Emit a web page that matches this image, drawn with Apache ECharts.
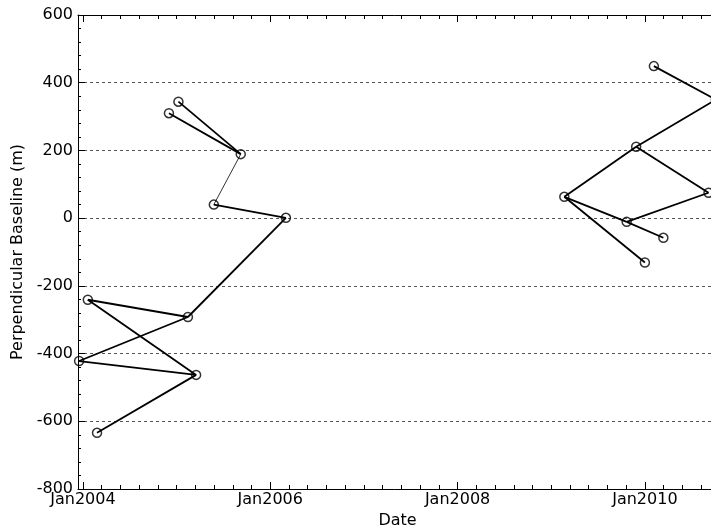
<!DOCTYPE html>
<html>
<head>
<meta charset="utf-8">
<script src="https://cdn.jsdelivr.net/npm/echarts@6/dist/echarts.min.js"></script>
<style>html,body{margin:0;padding:0;background:#fff;overflow:hidden;}#c{width:711px;height:532px;}</style>
</head>
<body>
<div id="c"></div>
<script>
// acquisition dates and perpendicular baselines (m)
const pointDates = [
  '2005-01-08','2004-12-02','2005-09-08','2005-05-26','2006-03-03',
  '2004-01-20','2005-02-14','2003-12-17','2005-03-18','2004-02-25',
  '2010-02-05','2009-11-28','2009-02-21','2010-09-06','2009-10-22',
  '2010-03-14','2010-01-01','2010-10-05'
];
const pointBaselines = [
  344, 310, 189, 40, 1,
  -241, -292, -422, -463, -634,
  449, 211, 63, 75, -11,
  -58, -131, 350
];
// interferometric pairs (indices into the arrays above)
const pairFrom = [0, 1, 2, 3, 4, 6, 6, 5, 7, 8, 10, 11, 12, 11, 12, 14, 14, 12];
const pairTo   = [2, 2, 3, 4, 6, 5, 7, 8, 8, 9, 17, 17, 11, 13, 14, 13, 15, 16];
const thinPairs = [2];
// axis ticks
const majorYears = [2004, 2006, 2008, 2010];

function toYear(s) {
  const d = Date.parse(s + 'T00:00:00Z');
  const y = new Date(d).getUTCFullYear();
  const a = Date.UTC(y, 0, 1), b = Date.UTC(y + 1, 0, 1);
  return y + (d - a) / (b - a);
}
const pts = pointDates.map((s, i) => [toYear(s), pointBaselines[i]]);
const minorYears = [];
for (let k = 0; k <= 40; k++) {
  const v = Math.round((2003.8 + k * 0.2) * 10) / 10;
  if (v > 2003.95 && v < 2010.77 && majorYears.indexOf(v) < 0) minorYears.push(v);
}
const xMin = 2003.947, xMax = 2010.77;
const font = '"DejaVu Sans", sans-serif';

function xAx(pos, vals, len, line, labels) {
  return {
    type: 'value', position: pos, min: xMin, max: xMax,
    axisLine: {show: line, onZero: false, lineStyle: {color: '#000', width: 1}},
    axisTick: {show: true, inside: true, length: len, customValues: vals, lineStyle: {color: '#000', width: 1}},
    axisLabel: labels ? {show: true, customValues: vals, formatter: v => 'Jan' + Math.round(v),
      color: '#000', fontFamily: font, fontSize: 16, margin: 3} : {show: false},
    splitLine: {show: false},
    name: labels ? 'Date' : '', nameLocation: 'middle', nameGap: 24,
    nameTextStyle: {color: '#000', fontFamily: font, fontSize: 16}
  };
}

const chart = echarts.init(document.getElementById('c'), null, {renderer: 'canvas'});
chart.setOption({
  animation: false,
  backgroundColor: '#fff',
  grid: {left: 78, top: 15, width: 639, height: 474, containLabel: false, outerBoundsMode: 'none'},
  xAxis: [
    xAx('bottom', majorYears, 7, true, true),
    xAx('bottom', minorYears, 4, false, false),
    xAx('top', majorYears, 7, true, false),
    xAx('top', minorYears, 4, false, false)
  ],
  yAxis: {
    type: 'value', min: -800, max: 600, interval: 200,
    axisLine: {show: true, onZero: false, lineStyle: {color: '#000', width: 1}},
    axisTick: {show: true, inside: true, length: 7, lineStyle: {color: '#000'}},
    minorTick: {show: true, splitNumber: 5, length: 3, lineStyle: {color: '#000'}},
    axisLabel: {color: '#000', fontFamily: font, fontSize: 16, margin: 5},
    splitLine: {show: true, lineStyle: {color: '#555', type: [3, 3], width: 1}},
    name: 'Perpendicular Baseline (m)', nameLocation: 'middle', nameGap: 46,
    nameTextStyle: {color: '#000', fontFamily: font, fontSize: 16}
  },
  series: [
    {
      type: 'lines', coordinateSystem: 'cartesian2d', xAxisIndex: 0, yAxisIndex: 0,
      data: pairFrom.map((f, i) => ({
        coords: [pts[f], pts[pairTo[i]]],
        lineStyle: {width: thinPairs.indexOf(i) >= 0 ? 0.8 : 1.8, color: '#000'}
      })),
      lineStyle: {color: '#000', opacity: 1, curveness: 0},
      silent: true, z: 3
    },
    {
      type: 'scatter', xAxisIndex: 0, yAxisIndex: 0,
      data: pts, symbol: 'circle', symbolSize: 9,
      itemStyle: {color: 'rgba(0,0,0,0)', borderColor: '#000', borderWidth: 1.5},
      clip: false, z: 4
    }
  ]
});
</script>
</body>
</html>
